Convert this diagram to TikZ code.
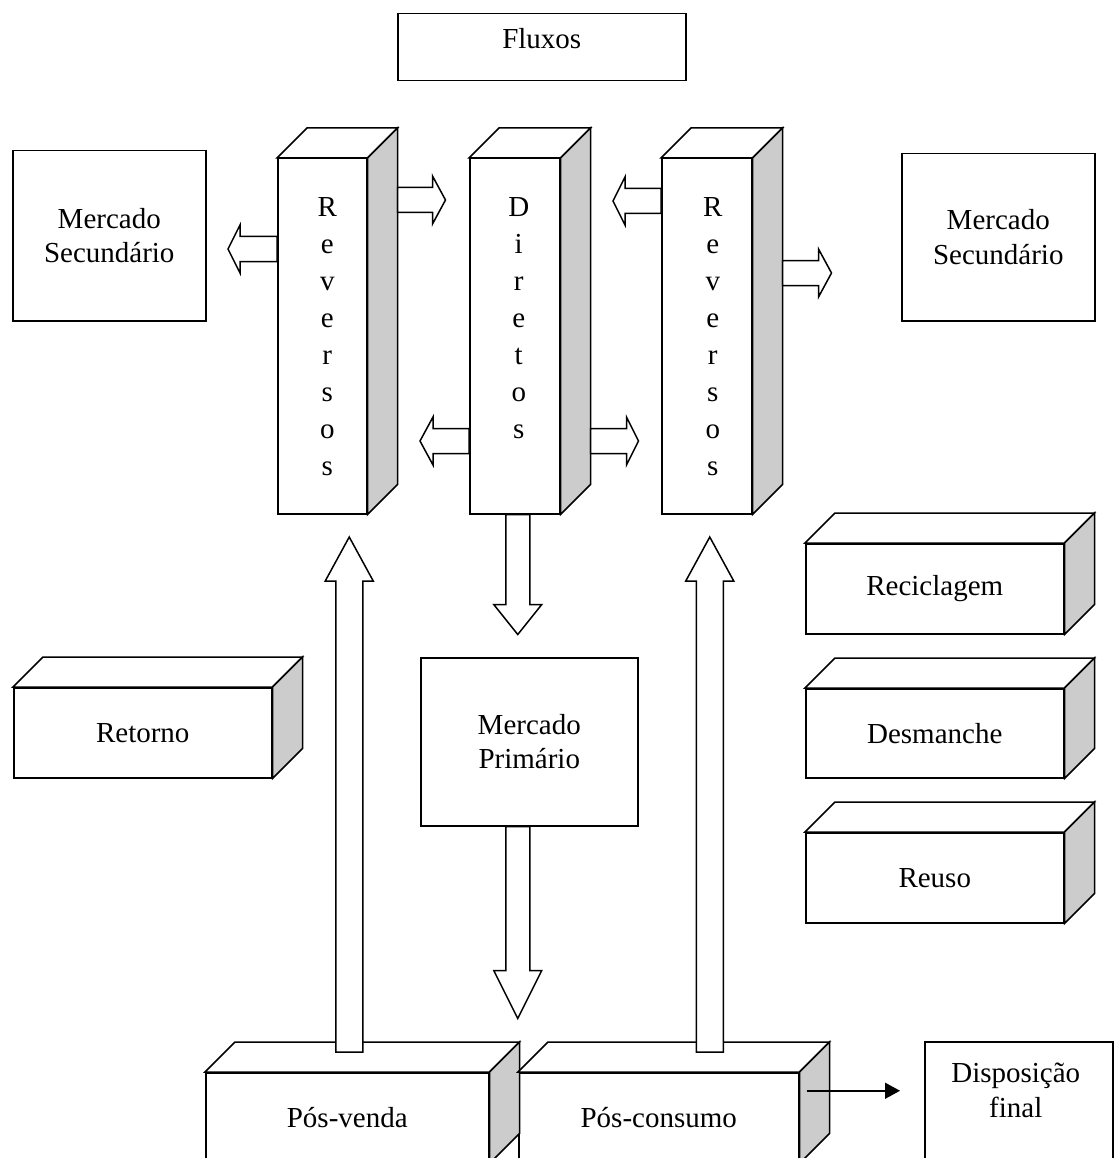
\documentclass[tikz,border=0pt]{standalone}
\usepackage{fontspec}
\setmainfont{Liberation Serif}
\usetikzlibrary{calc,arrows.meta}

\definecolor{sidegray}{gray}{0.8}

\tikzset{
  edge/.style={line width=1.5pt, line join=miter},
  box/.style={draw, edge, fill=white, inner sep=0pt, align=center, anchor=north west,
    font=\fontsize{29}{34.5}\selectfont},
  letters/.style={inner sep=0pt, align=center, anchor=north,
    font=\fontsize{29}{37}\selectfont},
  caption/.style={inner sep=0pt, align=center, anchor=north,
    font=\fontsize{29}{34.5}\selectfont},
  pics/fatarrow/.style n args={3}{code={
    \draw[edge, fill=white] (0,-#3) -- ({#1-#2},-#3) -- ({#1-#2},-24) -- (#1,0)
      -- ({#1-#2},24) -- ({#1-#2},#3) -- (0,#3) -- cycle;
  }}
}

% top and side faces of a solid box
\newcommand\extrude[1]{%
  \draw[edge, fill=white] (#1.north west) -- ++(30,-30) -- ($(#1.north east)+(30,-30)$)
    -- (#1.north east) -- cycle;
  \draw[edge, fill=sidegray] (#1.north east) -- ++(30,-30) -- ($(#1.south east)+(30,-30)$)
    -- (#1.south east) -- cycle;
}

\begin{document}
\begin{tikzpicture}[x=1pt, y=-1pt]
  \useasboundingbox (0,0) rectangle (1114,1158);

  % plain boxes
  \node[box, minimum width=288pt, text height=35pt, text depth=32pt] (fluxos) at (397,13) {Fluxos};
  \node[box, minimum width=193pt, minimum height=170pt] (mercL) at (12,150) {Mercado\\Secund\'ario};
  \node[box, minimum width=193pt, minimum height=167pt] (mercR) at (901,153) {Mercado\\Secund\'ario};
  \node[box, minimum width=217pt, minimum height=168pt] (primario) at (420,657) {Mercado\\Prim\'ario};
  \node[box, minimum width=188pt, minimum height=160pt] (disp) at (924,1041) {};
  \node[caption] (dispText) at ($(disp.north)+(-3,22)$) {Disposi\c{c}\~ao\\final};

  % columns
  \node[box, minimum width=89pt, minimum height=355pt] (revL) at (277,158) {};
  \node[box, minimum width=90pt, minimum height=355pt] (dir) at (469,158) {};
  \node[box, minimum width=90pt, minimum height=355pt] (revR) at (661,158) {};
  \extrude{revL}
  \extrude{dir}
  \extrude{revR}
  \node[letters] (revLText) at ($(revL.north)+(5,39.5)$) {R\\e\\v\\e\\r\\s\\o\\s};
  \node[letters] (dirText) at ($(dir.north)+(4,39.5)$) {D\\i\\r\\e\\t\\o\\s};
  \node[letters] (revRText) at ($(revR.north)+(6,39.5)$) {R\\e\\v\\e\\r\\s\\o\\s};

  % solid boxes
  \node[box, minimum width=258pt, minimum height=90pt] (retorno) at (13,687) {Retorno};
  \node[box, minimum width=258pt, minimum height=90pt] (recic) at (805,543) {Reciclagem};
  \node[box, minimum width=258pt, minimum height=89pt] (desm) at (805,688) {Desmanche};
  \node[box, minimum width=258pt, minimum height=90pt] (reuso) at (805,832) {Reuso};
  \node[box, minimum width=283pt, minimum height=90pt] (posV) at (205,1072) {P\'os-venda};
  \node[box, minimum width=280pt, minimum height=90pt] (posC) at (518,1072) {P\'os-consumo};
  \foreach \b in {retorno,recic,desm,reuso,posV,posC}
    {\extrude{\b}}

  % flows between the columns
  \pic[rotate=180] at (revL.west |- 0,249) {fatarrow={49}{12}{12.5}};
  \pic at ($(revL.east |- 0,200)+(30,0)$) {fatarrow={48}{13}{12.5}};
  \pic[rotate=180] at (dir.west |- 0,441) {fatarrow={49}{13}{12.5}};
  \pic at ($(dir.east |- 0,441)+(30,0)$) {fatarrow={48}{12}{12.5}};
  \pic[rotate=180] at (revR.west |- 0,201) {fatarrow={48}{12}{12.5}};
  \pic at ($(revR.east |- 0,273)+(30,0)$) {fatarrow={49}{13}{12.5}};

  % vertical flows
  \pic[rotate=-90] at ($(dir.south)+(3,0)$) {fatarrow={120}{30}{12}};
  \pic[rotate=-90] at ($(primario.south)+(-11.5,0)$) {fatarrow={192}{48}{12}};
  \pic[rotate=90] at ($(revL.south |- posV.north)+(27,-20)$) {fatarrow={515}{44}{13.5}};
  \pic[rotate=90] at ($(revR.south |- posC.north)+(3,-20)$) {fatarrow={515}{44}{13.5}};

  \coordinate (dispIn) at ($(posC.east)+(7,-27)$);
  \draw[edge, -{Triangle[length=15pt, width=16pt]}, shorten >=24pt]
    (dispIn) -- (disp.west |- dispIn);
\end{tikzpicture}
\end{document}
